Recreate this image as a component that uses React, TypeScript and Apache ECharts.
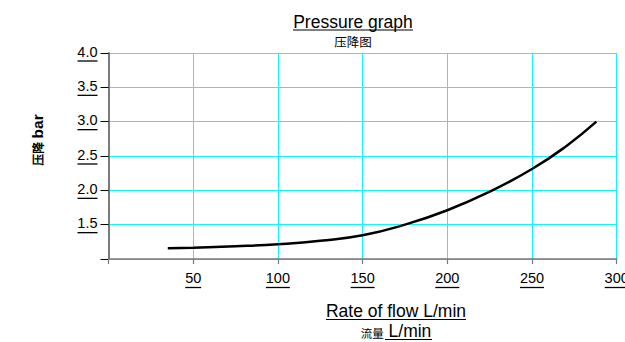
import React, { useEffect, useRef } from 'react';
import * as echarts from 'echarts';

const flow = [35, 50, 75, 100, 125, 150, 175, 200, 225, 250, 270, 288];
const pressure = [1.155, 1.165, 1.185, 1.215, 1.265, 1.345, 1.5, 1.71, 1.98, 2.31, 2.64, 3.0];

const titleText = 'Pressure graph';
const subTitleText = '压降图';
const xNameLine1 = 'Rate of flow L/min';
const xNameCn = '流量';
const xNameUnit = ' L/min';
const yNameCn = '压降';
const yNameUnit = 'bar';

const FONT = '"Liberation Sans", Arial, sans-serif';
const CJK = '"Noto Sans CJK SC", sans-serif';
const CYAN = '#19f5f5';
const GREY = '#7a7a7a';

export default function App() {
  const ref = useRef<HTMLDivElement>(null);
  useEffect(() => {
    document.body.style.margin = '0';
    if (!ref.current) return;
    const chart = echarts.init(ref.current, null, { renderer: 'svg' });
    const u = (w: number) => ({ width: w, height: 1.3, lineHeight: 3, fontSize: 1, backgroundColor: '#000' });
    chart.setOption({
      animation: false,
      backgroundColor: '#fff',
      grid: { left: 108.5, right: 8.3, top: 53, bottom: 83, outerBoundsMode: 'none', containLabel: false },
      xAxis: {
        type: 'value',
        min: 0,
        max: 300,
        interval: 50,
        axisLine: { show: true, lineStyle: { color: GREY, width: 1.5 } },
        axisTick: { show: true, length: 5, lineStyle: { color: GREY, width: 1.2 } },
        splitLine: { show: true, lineStyle: { color: CYAN, width: 1 } },
        axisLabel: {
          margin: 11,
          hideOverlap: false,
          formatter: (v: number) => (v === 0 ? '' : `{v|${v}}\n{u${String(v).length}| }`),
          rich: {
            v: { fontSize: 14.5, fontFamily: FONT, color: '#000', lineHeight: 16 },
            u2: u(16),
            u3: u(24),
          },
        },
      },
      yAxis: {
        type: 'value',
        min: 1,
        max: 4,
        interval: 0.5,
        axisLine: { show: true, lineStyle: { color: GREY, width: 2 } },
        axisTick: { show: true, length: 8, lineStyle: { color: '#000', width: 1 } },
        splitLine: { show: true, lineStyle: { color: CYAN, width: 1 } },
        axisLabel: {
          margin: 11,
          formatter: (v: number) => (v === 1 ? '' : `{v|${v.toFixed(1)}}\n{u| }`),
          rich: {
            v: { fontSize: 14.5, fontFamily: FONT, color: '#000', lineHeight: 16, align: 'right' },
            u: { ...u(20), align: 'right' },
          },
        },
      },
      graphic: [
        {
          type: 'text',
          x: 353,
          y: 22,
          style: {
            text: titleText,
            font: `17.5px ${FONT}`,
            fill: '#000',
            align: 'center',
            verticalAlign: 'middle',
            textAlign: 'center',
            textVerticalAlign: 'middle',
          },
        },
        { type: 'line', shape: { x1: 293, y1: 30, x2: 413, y2: 30 }, style: { stroke: '#000', lineWidth: 1.2 } },
        {
          type: 'text',
          x: 353,
          y: 41,
          style: {
            text: subTitleText,
            font: `12.5px ${CJK}`,
            fill: '#000',
            align: 'center',
            verticalAlign: 'middle',
            textAlign: 'center',
            textVerticalAlign: 'middle',
          },
        },
        {
          type: 'text',
          x: 396,
          y: 311,
          style: {
            text: xNameLine1,
            font: `17.5px ${FONT}`,
            fill: '#000',
            align: 'center',
            verticalAlign: 'middle',
            textAlign: 'center',
            textVerticalAlign: 'middle',
          },
        },
        { type: 'line', shape: { x1: 326, y1: 319.5, x2: 466, y2: 319.5 }, style: { stroke: '#000', lineWidth: 1.2 } },
        {
          type: 'text',
          x: 396,
          y: 331,
          style: {
            text: `{c|${xNameCn}}{e|${xNameUnit}}`,
            rich: {
              c: { fontSize: 11.5, fontFamily: CJK, color: '#000', verticalAlign: 'bottom', padding: [0, 0, 1, 0] },
              e: { fontSize: 17.5, fontFamily: FONT, color: '#000', verticalAlign: 'bottom' },
            },
            align: 'center',
            verticalAlign: 'middle',
            textAlign: 'center',
            textVerticalAlign: 'middle',
          },
        },
        { type: 'line', shape: { x1: 385, y1: 339.5, x2: 432, y2: 339.5 }, style: { stroke: '#000', lineWidth: 1.2 } },
        {
          type: 'text',
          x: 37,
          y: 140,
          rotation: Math.PI / 2,
          style: {
            text: `{c|${yNameCn}} {b|${yNameUnit}}`,
            rich: {
              c: { fontSize: 12, fontFamily: CJK, fontWeight: 'bold', color: '#000' },
              b: { fontSize: 15.5, fontFamily: FONT, fontWeight: 'bold', color: '#000' },
            },
            align: 'center',
            verticalAlign: 'middle',
            textAlign: 'center',
            textVerticalAlign: 'middle',
          },
        },
      ],
      series: [
        {
          type: 'line',
          data: flow.map((f, i) => [f, pressure[i]]),
          smooth: 0.5,
          showSymbol: false,
          symbol: 'none',
          lineStyle: { color: '#000', width: 2.5 },
        },
      ],
    });
    return () => chart.dispose();
  }, []);
  return <div ref={ref} style={{ position: 'fixed', left: 0, top: 0, width: 625, height: 342 }} />;
}
